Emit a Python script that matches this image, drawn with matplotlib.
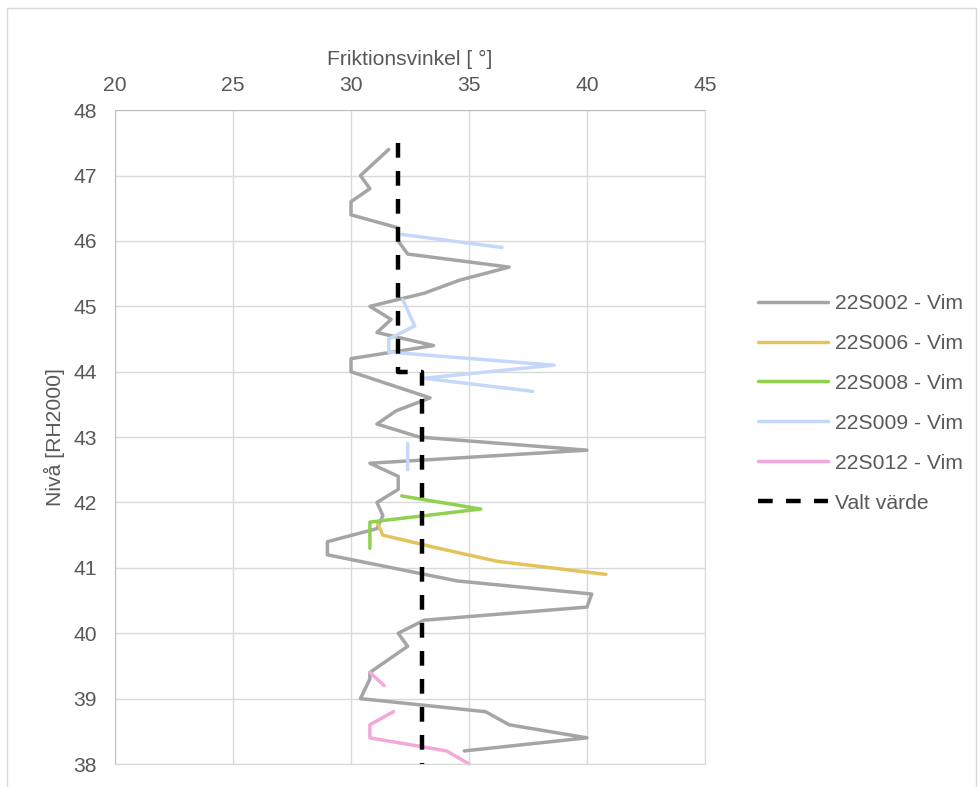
import numpy as np
import matplotlib
matplotlib.use('Agg')
from matplotlib import pyplot as plt
from matplotlib.patches import Rectangle

plt.rcParams['font.family'] = ['Liberation Sans', 'DejaVu Sans']

# 22S002 - Vim
s002_x = [31.6, 31.0, 30.4, 30.8, 30.0, 30.0, 32.0, 32.0, 32.4, 36.7, 34.6, 33.1, 30.8, 31.7, 31.1,
          33.5, 30.0, 30.0, 33.35, 31.9, 31.1, 32.9, 40.0, 30.8, 32.0, 32.0, 31.1, 31.35, 31.1, 29.0,
          29.0, 34.5, 40.2, 40.0, 33.1, 32.0, 32.4, 30.8, 30.8, 30.4, 35.7, 36.7, 40.0, 34.8]
s002_y = [47.4, 47.2, 47.0, 46.8, 46.6, 46.4, 46.2, 46.0, 45.8, 45.6, 45.4, 45.2, 45.0, 44.8, 44.6,
          44.4, 44.2, 44.0, 43.6, 43.4, 43.2, 43.0, 42.8, 42.6, 42.4, 42.2, 42.0, 41.8, 41.6, 41.4,
          41.2, 40.8, 40.6, 40.4, 40.2, 40.0, 39.8, 39.4, 39.3, 39.0, 38.8, 38.6, 38.4, 38.2]
# 22S006 - Vim
s006_x = [31.1, 31.35, 33.7, 36.2, 40.8]
s006_y = [41.7, 41.5, 41.3, 41.1, 40.9]
# 22S008 - Vim
s008_x = [32.15, 35.5, 30.8, 30.8]
s008_y = [42.1, 41.9, 41.7, 41.3]
# 22S009 - Vim (gaps = missing values)
s009_x = [32.15, 36.4, np.nan, 32.2, 32.7, 31.6, 31.6, 38.6, 33.1, 37.7, np.nan, 32.4, 32.4]
s009_y = [46.1, 45.9, np.nan, 45.1, 44.7, 44.5, 44.3, 44.1, 43.9, 43.7, np.nan, 42.9, 42.5]
# 22S012 - Vim
s012_x = [30.8, 31.4, np.nan, 31.8, 30.8, 30.8, 34.05, 35.0]
s012_y = [39.4, 39.2, np.nan, 38.8, 38.6, 38.4, 38.2, 38.0]
# Valt värde
valt_x = [32, 32, 33, 33]
valt_y = [47.5, 44.0, 44.0, 38.0]

txt = '#595959'
grid = '#D9D9D9'
fs = 15.2

fig = plt.figure(figsize=(9.79, 7.87), dpi=100)
ax = fig.add_axes([115 / 979, 1 - 764 / 787, 590 / 979, (764 - 110.2) / 787])

lw = 2.5
kw = dict(lw=lw, clip_on=False, solid_joinstyle='round', solid_capstyle='round')
ax.plot(s002_x, s002_y, color='#A5A5A5', label='22S002 - Vim', **kw)
ax.plot(s006_x, s006_y, color='#E3C35A', label='22S006 - Vim', **kw)
ax.plot(s008_x, s008_y, color='#92D050', label='22S008 - Vim', **kw)
ax.plot(s009_x, s009_y, color='#C5D8FA', label='22S009 - Vim', **kw)
ax.plot(s012_x, s012_y, color='#F2A8DA', label='22S012 - Vim', **kw)
ax.plot(valt_x, valt_y, color='black', lw=3.2, ls=(0, (3.3, 3.0)), label='Valt värde', clip_on=False)

ax.set_xlim(20, 45)
ax.set_ylim(38, 48)
ax.set_xticks(range(20, 46, 5))
ax.set_yticks(range(38, 49))
ax.grid(True, color=grid, lw=1)
ax.set_axisbelow(True)
for s in ['right', 'bottom']:
    ax.spines[s].set_color(grid)
for s in ['top', 'left']:
    ax.spines[s].set_color('#BFBFBF')

ax.xaxis.tick_top()
ax.xaxis.set_label_position('top')
ax.tick_params(axis='x', length=0, pad=11, labelsize=fs, labelcolor=txt)
ax.tick_params(axis='y', length=0, pad=13, labelsize=fs, labelcolor=txt)
ax.set_xlabel('Friktionsvinkel [ °]', fontsize=fs, color=txt, labelpad=8)
ax.set_ylabel('Nivå [RH2000]', fontsize=fs, color=txt, labelpad=6)

leg = ax.legend(loc='upper left', bbox_to_anchor=(758 / 979, 1 - 294 / 787),
                bbox_transform=fig.transFigure, frameon=False, fontsize=fs,
                handlelength=3.33, handletextpad=0.33, labelspacing=0.99,
                borderpad=0, borderaxespad=0)
for t in leg.get_texts():
    t.set_color(txt)

fig.patches.append(Rectangle((7 / 979, -0.05), 969 / 979, 1.05 - 8 / 787, transform=fig.transFigure,
                             fill=False, edgecolor=grid, lw=1))

fig.savefig('out.png', dpi=100)
